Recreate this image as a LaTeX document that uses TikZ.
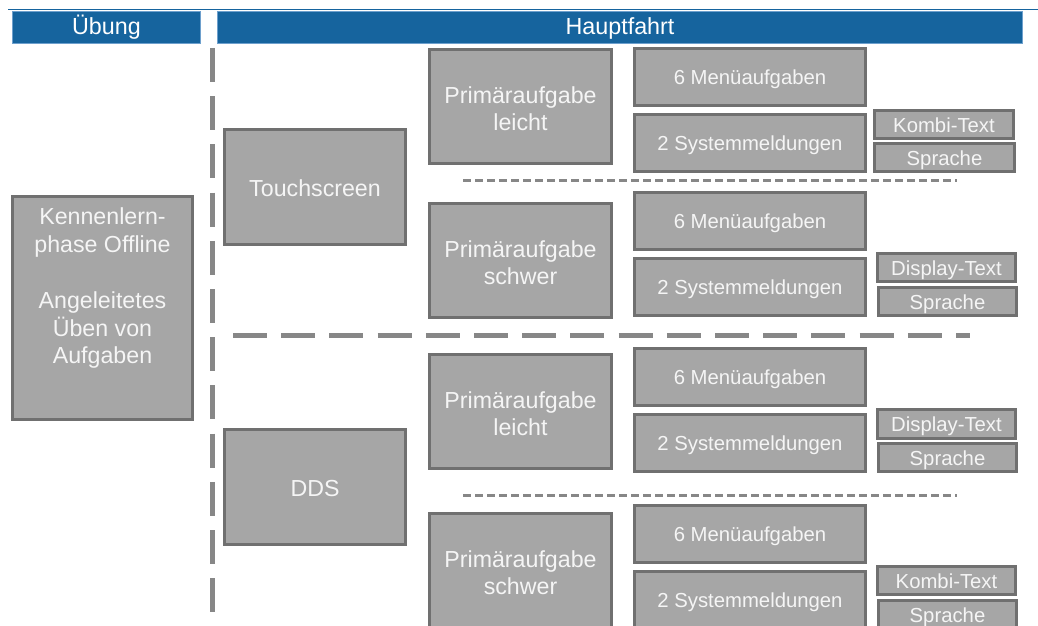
\documentclass[tikz,border=0pt]{standalone}
\usepackage{fontspec}
\setmainfont{Liberation Sans}
\definecolor{hdrblue}{RGB}{22,100,158}
\definecolor{hdredge}{RGB}{110,160,205}
\definecolor{boxfill}{RGB}{166,166,166}
\definecolor{boxedge}{RGB}{112,112,112}
\definecolor{sepgray}{RGB}{135,135,135}
\definecolor{boxtext}{RGB}{245,245,245}
\tikzset{
  header/.style={draw=hdredge, line width=1pt, fill=hdrblue, text=white,
    inner sep=0pt, text height=20pt, text depth=5pt,
    font=\fontsize{23.3}{28}\selectfont},
  grayboxbase/.style={draw=boxedge, line width=3pt, fill=boxfill, text=boxtext,
    inner sep=0pt, align=center},
  bigbox/.style={grayboxbase, font=\fontsize{23.2}{27.6}\selectfont},
  bigone/.style={bigbox, text height=19pt, text depth=0pt},
  smallbox/.style={grayboxbase, font=\fontsize{20.3}{24}\selectfont,
    text height=17.5pt, text depth=2pt},
  bigsep/.style={draw=sepgray, line width=5pt, dash pattern=on 34pt off 14.2pt},
  smallsep/.style={draw=sepgray, line width=3.5pt, dash pattern=on 8pt off 4pt},
}
% box from its outer corners (x1,y1)-(x2,y2), y growing downwards
\newcommand{\grbox}[7]{%
  \node[#2, minimum width={#5-#3-3}, minimum height={#6-#4-3}]
    (#1) at ({(#3+#5)/2},{(#4+#6)/2}) {#7};}
% first line of a two-line label, with a little extra head room
\newcommand{\topline}[1]{\rule{0pt}{21pt}#1}
\begin{document}
\begin{tikzpicture}[x=1pt, y=-1pt]
\clip (0,0) rectangle (1038,626);
\useasboundingbox (0,0) rectangle (1038,626);

% top rule and column headers
\draw[hdrblue, line width=1.5pt] (8,9.5) -- (1038,9.5);
\node[header, minimum width=188pt, minimum height=32pt] (uebung) at (106.5,27.5) {Übung};
\node[header, minimum width=805pt, minimum height=32pt] (hauptfahrt) at (620,27.5) {Hauptfahrt};

% separators
\draw[bigsep] (212,48) -- (212,640);
\draw[bigsep] (233,335.5) -- (970,335.5);
\draw[smallsep] (463,180.5) -- (957,180.5);
\draw[smallsep] (463,495.5) -- (957,495.5);

% practice phase
\grbox{kennen}{bigbox}{11}{195}{194}{421}{}
\node[font=\fontsize{23.2}{27.6}\selectfont, text=boxtext, align=center, inner sep=0pt,
  anchor=north] (kennentext) at (102.5,207.5)
  {Kennenlern-\\phase Offline\\[29pt]Angeleitetes\\Üben von\\Aufgaben};

% input modalities
\grbox{touch}{bigone}{223}{128}{407}{246}{Touchscreen}
\grbox{dds}{bigone}{223}{428}{407}{546}{DDS}

% primary tasks
\grbox{pa}{bigbox}{428}{48}{613}{165}{\topline{Primäraufgabe}\\leicht}
\grbox{pb}{bigbox}{428}{202}{613}{319}{\topline{Primäraufgabe}\\schwer}
\grbox{pc}{bigbox}{428}{353}{613}{470}{\topline{Primäraufgabe}\\leicht}
\grbox{pd}{bigbox}{428}{512}{613}{629}{\topline{Primäraufgabe}\\schwer}

% menu tasks and system messages
\grbox{ma}{smallbox}{633}{47}{867}{107}{6 Menüaufgaben}
\grbox{sa}{smallbox}{633}{113}{867}{173}{2 Systemmeldungen}
\grbox{mb}{smallbox}{633}{191}{867}{251}{6 Menüaufgaben}
\grbox{sb}{smallbox}{633}{257}{867}{317}{2 Systemmeldungen}
\grbox{mc}{smallbox}{633}{347}{867}{407}{6 Menüaufgaben}
\grbox{sc}{smallbox}{633}{413}{867}{473}{2 Systemmeldungen}
\grbox{md}{smallbox}{633}{504}{867}{564}{6 Menüaufgaben}
\grbox{sd}{smallbox}{633}{570}{867}{630}{2 Systemmeldungen}

% message variants
\grbox{va1}{smallbox}{873}{109}{1015}{140}{Kombi-Text}
\grbox{va2}{smallbox}{873}{142}{1016}{173}{Sprache}
\grbox{vb1}{smallbox}{876}{252}{1017}{283}{Display-Text}
\grbox{vb2}{smallbox}{877}{286}{1018}{317}{Sprache}
\grbox{vc1}{smallbox}{876}{408}{1017}{440}{Display-Text}
\grbox{vc2}{smallbox}{877}{442}{1018}{473}{Sprache}
\grbox{vd1}{smallbox}{876}{565}{1017}{596}{Kombi-Text}
\grbox{vd2}{smallbox}{877}{599}{1018}{630}{Sprache}
\end{tikzpicture}
\end{document}
